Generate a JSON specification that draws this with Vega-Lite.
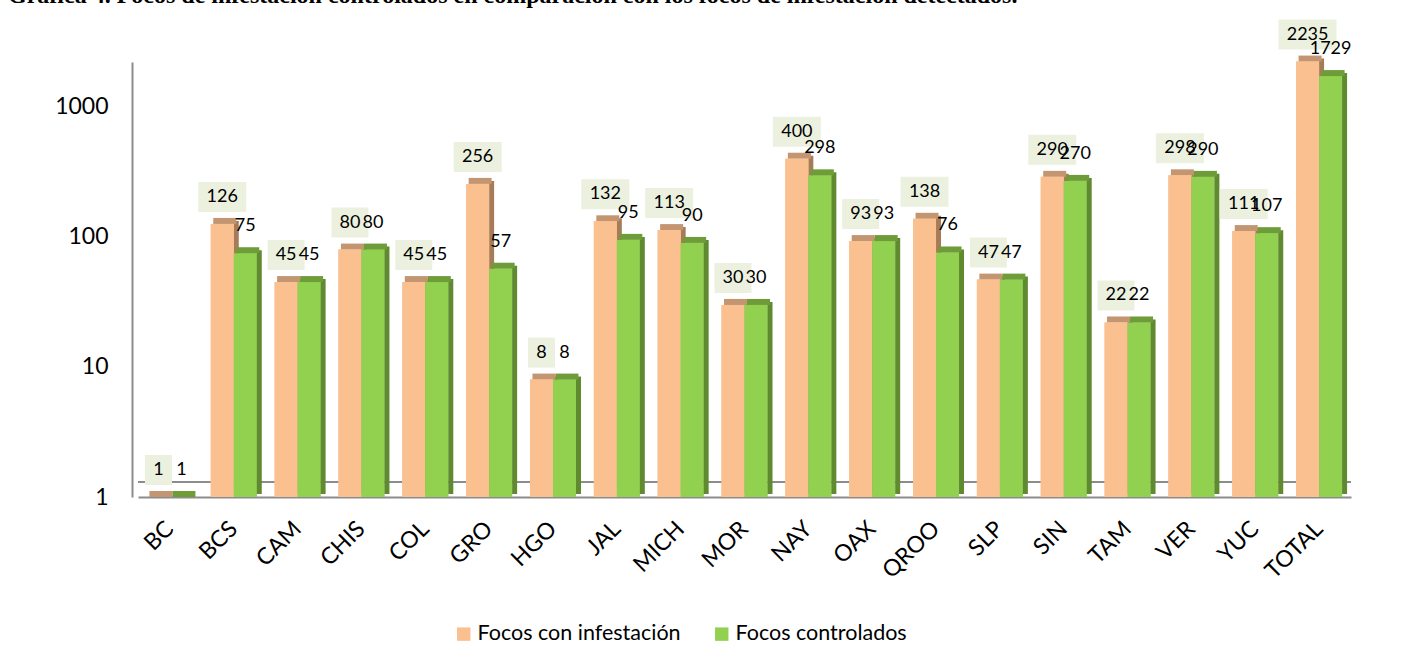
{
  "$schema": "https://vega.github.io/schema/vega-lite/v6.json",
  "autosize": {"type": "none"},
  "width": 1213,
  "height": 435,
  "padding": {"left": 138, "top": 62, "right": 63, "bottom": 170},
  "background": "white",
  "title": {
    "text": "Gráfica 4. Focos de infestación controlados en comparación con los focos de infestación detectados.",
    "font": "Liberation Serif",
    "fontSize": 24,
    "fontWeight": "bold",
    "color": "black",
    "anchor": "start",
    "frame": "group",
    "baseline": "alphabetic",
    "dx": -130,
    "dy": 7,
    "offset": 0
  },
  "config": {
    "view": {"stroke": null},
    "font": "Lato"
  },
  "data": {
    "values": [
      {"estado": "BC", "serie": "Focos con infestación", "valor": 1},
      {"estado": "BC", "serie": "Focos controlados", "valor": 1},
      {"estado": "BCS", "serie": "Focos con infestación", "valor": 126},
      {"estado": "BCS", "serie": "Focos controlados", "valor": 75},
      {"estado": "CAM", "serie": "Focos con infestación", "valor": 45},
      {"estado": "CAM", "serie": "Focos controlados", "valor": 45},
      {"estado": "CHIS", "serie": "Focos con infestación", "valor": 80},
      {"estado": "CHIS", "serie": "Focos controlados", "valor": 80},
      {"estado": "COL", "serie": "Focos con infestación", "valor": 45},
      {"estado": "COL", "serie": "Focos controlados", "valor": 45},
      {"estado": "GRO", "serie": "Focos con infestación", "valor": 256},
      {"estado": "GRO", "serie": "Focos controlados", "valor": 57},
      {"estado": "HGO", "serie": "Focos con infestación", "valor": 8},
      {"estado": "HGO", "serie": "Focos controlados", "valor": 8},
      {"estado": "JAL", "serie": "Focos con infestación", "valor": 132},
      {"estado": "JAL", "serie": "Focos controlados", "valor": 95},
      {"estado": "MICH", "serie": "Focos con infestación", "valor": 113},
      {"estado": "MICH", "serie": "Focos controlados", "valor": 90},
      {"estado": "MOR", "serie": "Focos con infestación", "valor": 30},
      {"estado": "MOR", "serie": "Focos controlados", "valor": 30},
      {"estado": "NAY", "serie": "Focos con infestación", "valor": 400},
      {"estado": "NAY", "serie": "Focos controlados", "valor": 298},
      {"estado": "OAX", "serie": "Focos con infestación", "valor": 93},
      {"estado": "OAX", "serie": "Focos controlados", "valor": 93},
      {"estado": "QROO", "serie": "Focos con infestación", "valor": 138},
      {"estado": "QROO", "serie": "Focos controlados", "valor": 76},
      {"estado": "SLP", "serie": "Focos con infestación", "valor": 47},
      {"estado": "SLP", "serie": "Focos controlados", "valor": 47},
      {"estado": "SIN", "serie": "Focos con infestación", "valor": 290},
      {"estado": "SIN", "serie": "Focos controlados", "valor": 270},
      {"estado": "TAM", "serie": "Focos con infestación", "valor": 22},
      {"estado": "TAM", "serie": "Focos controlados", "valor": 22},
      {"estado": "VER", "serie": "Focos con infestación", "valor": 298},
      {"estado": "VER", "serie": "Focos controlados", "valor": 290},
      {"estado": "YUC", "serie": "Focos con infestación", "valor": 111},
      {"estado": "YUC", "serie": "Focos controlados", "valor": 107},
      {"estado": "TOTAL", "serie": "Focos con infestación", "valor": 2235},
      {"estado": "TOTAL", "serie": "Focos controlados", "valor": 1729}
    ]
  },
  "encoding": {
    "x": {
      "field": "estado",
      "type": "nominal",
      "sort": null,
      "scale": {"paddingInner": 0.28, "paddingOuter": 0.14},
      "axis": {
        "title": null,
        "labelAngle": -45,
        "labelAlign": "right",
        "labelBaseline": "middle",
        "labelFont": "Lato",
        "labelFontSize": 23,
        "labelColor": "black",
        "labelPadding": 28,
        "ticks": false,
        "domainColor": "#8C8C8C",
        "domainWidth": 2
      }
    },
    "y": {
      "field": "valor",
      "type": "quantitative",
      "scale": {"type": "log", "domain": [1, 2218], "nice": false},
      "axis": {
        "title": null,
        "values": [1, 10, 100, 1000],
        "format": "d",
        "grid": false,
        "ticks": false,
        "offset": 6,
        "labelFont": "Lato",
        "labelFontSize": 23,
        "labelColor": "black",
        "labelPadding": 24,
        "domainColor": "#8C8C8C",
        "domainWidth": 2
      }
    }
  },
  "layer": [
    {
      "mark": {"type": "rule", "color": "#8C8C8C", "strokeWidth": 2, "yOffset": -15},
      "encoding": {"x": null, "y": {"datum": 1, "type": "quantitative"}}
    },
    {
      "mark": {"type": "bar"},
      "encoding": {
        "xOffset": {
          "field": "serie",
          "type": "nominal",
          "sort": ["Focos con infestación", "Focos controlados"],
          "scale": {"paddingInner": 0, "paddingOuter": 0}
        },
        "y2": {"datum": 1},
        "color": {
          "field": "serie",
          "type": "nominal",
          "sort": ["Focos con infestación", "Focos controlados"],
          "scale": {"domain": ["Focos con infestación", "Focos controlados"], "range": ["#FAC090", "#92D050"]},
          "legend": {
            "title": null,
            "orient": "none",
            "legendX": 315,
            "legendY": 561,
            "direction": "horizontal",
            "symbolType": "square",
            "symbolSize": 180,
            "symbolStrokeWidth": 0,
            "labelFont": "Lato",
            "labelFontSize": 21.5,
            "labelLimit": 0,
            "labelColor": "black",
            "labelOffset": 3,
            "columnPadding": 30
          }
        }
      }
    },
    {
      "transform": [{"filter": "datum.serie == 'Focos con infestación'"}],
      "mark": {"type": "bar", "width": 5, "xOffset": 2.5, "yOffset": -3, "y2Offset": -3, "color": "#A67B58"},
      "encoding": {"y2": {"datum": 1}}
    },
    {
      "transform": [{"filter": "datum.serie == 'Focos con infestación'"}],
      "mark": {"type": "bar", "width": 23, "xOffset": -9, "yOffset": -6, "y2Offset": 0, "color": "#C39570"},
      "encoding": {"y2": {"field": "valor"}}
    },
    {
      "transform": [{"filter": "datum.serie == 'Focos con infestación'"}],
      "mark": {"type": "bar", "width": 23, "xOffset": -11.5, "color": "#FAC090"},
      "encoding": {"y2": {"datum": 1}}
    },
    {
      "transform": [{"filter": "datum.serie == 'Focos controlados'"}],
      "mark": {"type": "bar", "width": 23, "xOffset": 11.5, "color": "#92D050"},
      "encoding": {"y2": {"datum": 1}}
    },
    {
      "transform": [{"filter": "datum.serie == 'Focos controlados'"}],
      "mark": {"type": "bar", "width": 5, "xOffset": 25.5, "yOffset": -3, "y2Offset": -3, "color": "#5F8A30"},
      "encoding": {"y2": {"datum": 1}}
    },
    {
      "transform": [{"filter": "datum.serie == 'Focos controlados'"}],
      "mark": {"type": "bar", "width": 23, "xOffset": 14, "yOffset": -6, "y2Offset": 0, "color": "#6E9C38"},
      "encoding": {"y2": {"field": "valor"}}
    },
    {
      "transform": [{"filter": "datum.serie == 'Focos con infestación' && datum.valor < 10"}],
      "mark": {"type": "bar", "width": 27, "xOffset": -11.5, "yOffset": -42, "y2Offset": -12, "color": "#EBF1DE"},
      "encoding": {"y2": {"field": "valor"}}
    },
    {
      "transform": [{"filter": "datum.serie == 'Focos con infestación' && datum.valor >= 10 && datum.valor < 100"}],
      "mark": {"type": "bar", "width": 37, "xOffset": -11.5, "yOffset": -42, "y2Offset": -12, "color": "#EBF1DE"},
      "encoding": {"y2": {"field": "valor"}}
    },
    {
      "transform": [{"filter": "datum.serie == 'Focos con infestación' && datum.valor >= 100 && datum.valor < 1000"}],
      "mark": {"type": "bar", "width": 48, "xOffset": -11.5, "yOffset": -42, "y2Offset": -12, "color": "#EBF1DE"},
      "encoding": {"y2": {"field": "valor"}}
    },
    {
      "transform": [{"filter": "datum.serie == 'Focos con infestación' && datum.valor >= 1000"}],
      "mark": {"type": "bar", "width": 58, "xOffset": -11.5, "yOffset": -42, "y2Offset": -12, "color": "#EBF1DE"},
      "encoding": {"y2": {"field": "valor"}}
    },
    {
      "mark": {"type": "text", "font": "Lato", "fontSize": 18, "color": "black", "dy": -27, "baseline": "middle", "align": "center"},
      "encoding": {
        "xOffset": {
          "field": "serie",
          "type": "nominal",
          "sort": ["Focos con infestación", "Focos controlados"],
          "scale": {"paddingInner": 0, "paddingOuter": 0}
        },
        "text": {"field": "valor", "type": "quantitative", "format": "d"}
      }
    }
  ]
}
